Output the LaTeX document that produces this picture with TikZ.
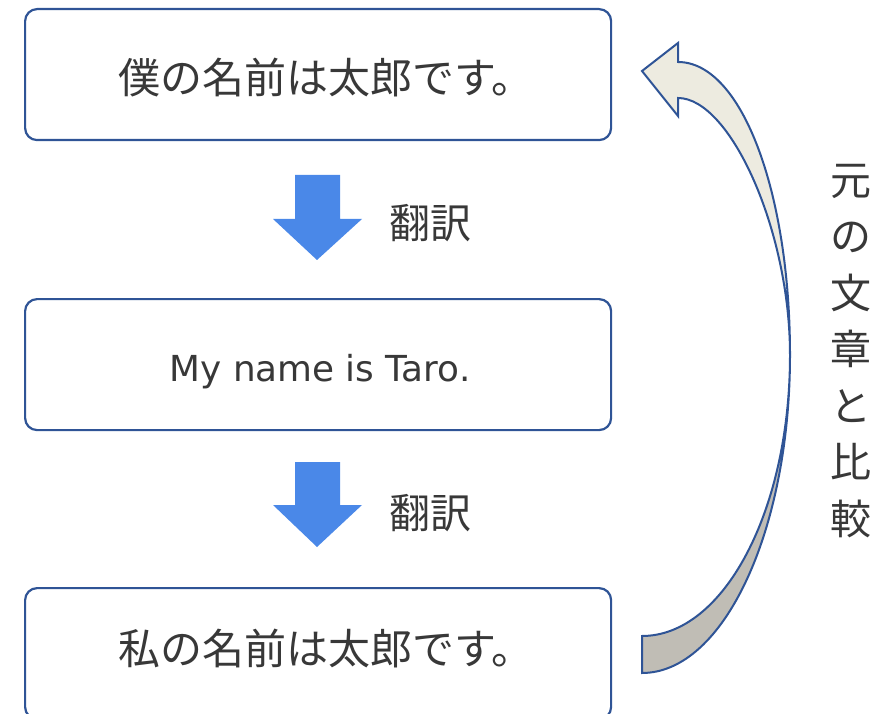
\documentclass[tikz,border=0pt]{standalone}
\usepackage{fontspec}
\newfontfamily\jpfont{Noto Sans CJK JP}
\newfontfamily\latfont{DejaVu Sans}
\definecolor{boxline}{RGB}{47,84,150}
\definecolor{txtgray}{RGB}{56,56,56}
\definecolor{blockblue}{RGB}{74,136,232}
\definecolor{beigelight}{RGB}{237,235,224}
\definecolor{beigedark}{RGB}{192,189,181}
\begin{document}
\begin{tikzpicture}[x=1pt,y=-1pt,
  roundbox/.style={draw=boxline, line width=2.2pt, rounded corners=12pt, fill=white,
    minimum width=586pt, minimum height=131pt, anchor=north west, inner sep=0pt},
  jptext/.style={font=\jpfont\fontsize{42}{50}\selectfont, text=txtgray, inner sep=0pt},
  labeltext/.style={font=\jpfont\fontsize{41}{50}\selectfont, text=txtgray, inner sep=0pt},
  lattext/.style={font=\latfont\fontsize{35.8}{42}\selectfont, text=txtgray, inner sep=0pt},
  blockarrow/.style={fill=blockblue},
  curvearrow/.style={draw=boxline, line width=2pt, line join=miter}
]
\useasboundingbox (0,0) rectangle (881,714);
\clip (0,0) rectangle (881,714);

% boxes
\node[roundbox] (box1) at (24,8) {};
\node[roundbox] (box2) at (24,298) {};
\node[roundbox] (box3) at (24,587) {};

% texts in boxes
\node[jptext] (t1) at (326,77.5) {僕の名前は太郎です。};
\node[lattext, anchor=base] (t2) at (320,381) {My name is Taro.};
\node[jptext] (t3) at (326,648.5) {私の名前は太郎です。};

% block arrows
\fill[blockarrow] (295,175) -- (340,175) -- (340,219) -- (362,219) -- (317,260) -- (273,219) -- (295,219) -- cycle;
\fill[blockarrow] (295,462) -- (340,462) -- (340,505) -- (362,505) -- (317,547) -- (273,505) -- (295,505) -- cycle;

% labels
\node[labeltext] (l1) at (430,223.5) {翻訳};
\node[labeltext] (l2) at (430,513.5) {翻訳};

% curved arrow
\path[curvearrow, fill=beigedark] (642,636) .. controls (724,636) and (790,510) .. (790,355)
  .. controls (790,530) and (724,673) .. (642,673) -- cycle;
\path[curvearrow, fill=beigelight] (678,62) .. controls (742,62) and (790,193) .. (790,355)
  .. controls (790,230) and (730,98) .. (678,98) -- (678,116) -- (642,71) -- (678,43) -- cycle;

% vertical text
\node[labeltext, align=center, font=\jpfont\fontsize{41}{56.5}\selectfont] (vt) at (851,351)
  {元\\の\\文\\章\\と\\比\\較};
\end{tikzpicture}
\end{document}
